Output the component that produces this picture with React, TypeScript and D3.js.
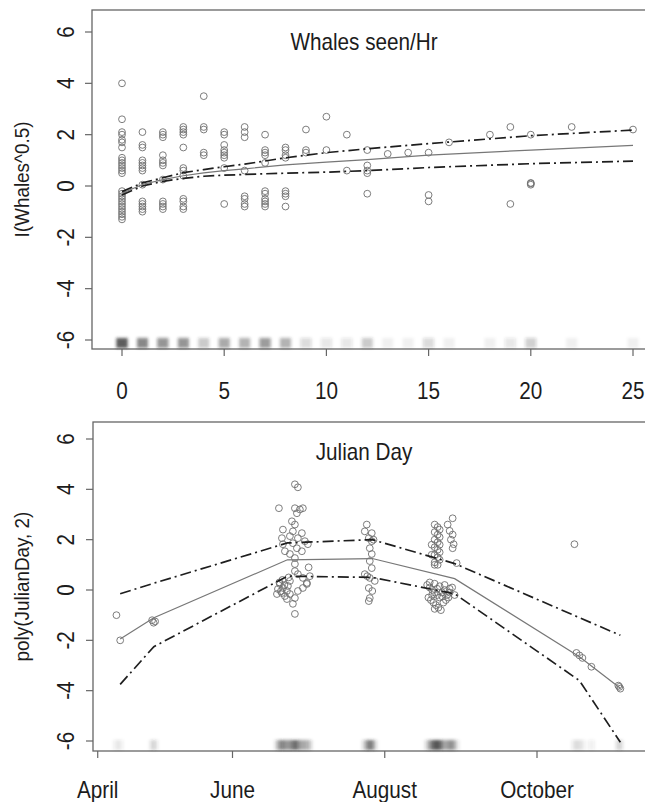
import React from 'react';
import * as d3 from 'd3';

// ---------- Top panel: Whales seen/Hr ----------
const whaleRateLevels = [0, 1, 2, 3, 4, 5, 6, 7, 8, 9, 10, 11, 12, 13, 14, 15, 16, 18, 19, 20, 22, 25];
const whaleResidByLevel = [
  [4.0, 2.6, 2.1, 2.0, 1.8, 1.7, 1.5, 1.1, 1.0, 0.9, 0.8, 0.7, 0.6, 0.5, -0.2, -0.3, -0.4, -0.5, -0.6, -0.7, -0.8, -0.9, -1.0, -1.1, -1.2, -1.3],
  [2.1, 1.6, 1.5, 1.0, 0.9, 0.8, 0.7, 0.6, 0.05, -0.6, -0.7, -0.8, -0.9, -1.0],
  [2.1, 2.0, 1.9, 1.2, 1.0, 0.9, 0.8, 0.25, -0.6, -0.7, -0.8, -0.9],
  [2.3, 2.2, 2.1, 2.0, 1.5, 0.7, 0.6, 0.4, -0.5, -0.6, -0.8, -0.9],
  [3.5, 2.3, 2.2, 1.3, 1.2],
  [2.1, 2.0, 1.6, 1.4, 1.3, 1.2, 1.1, 0.7, -0.7],
  [2.3, 2.1, 1.9, 0.6, -0.4, -0.5, -0.7, -0.8],
  [2.0, 1.4, 1.3, 1.2, 0.9, -0.2, -0.3, -0.5, -0.6, -0.7, -0.8],
  [1.5, 1.4, 1.2, 1.1, -0.2, -0.3, -0.4, -0.8],
  [2.2, 1.4, 1.3],
  [2.7, 1.4],
  [2.0, 0.6],
  [1.4, 0.8, 0.6, 0.5, -0.3],
  [1.25],
  [1.3],
  [1.3, -0.35, -0.6],
  [1.7],
  [2.0],
  [2.3, -0.7],
  [2.0, 0.1, 0.05, 0.12],
  [2.3],
  [2.2],
];
const whaleFitX = [0, 1, 2, 3, 4, 5, 6, 8, 10, 12, 15, 20, 25];
const whaleFit = [-0.28, 0.06, 0.25, 0.4, 0.51, 0.6, 0.67, 0.82, 0.93, 1.03, 1.2, 1.4, 1.58];
const whaleUpper = [-0.22, 0.12, 0.32, 0.52, 0.64, 0.75, 0.85, 1.1, 1.3, 1.45, 1.65, 1.96, 2.18];
const whaleLower = [-0.35, 0.0, 0.18, 0.3, 0.38, 0.42, 0.45, 0.5, 0.54, 0.6, 0.72, 0.87, 0.97];
const whaleXTicks = [0, 5, 10, 15, 20, 25];

// ---------- Bottom panel: Julian Day ----------
const julianDays = [
  105.5, 107, 119.8, 120.4, 121.0,
  177, 178.2, 170.6, 177, 179, 180.2, 177.8, 175.8, 177, 172.2, 176.2, 179.8, 171.8, 175, 178.2, 181, 182.2, 172.2, 176.2, 177.8,
  173, 175, 177, 179.8, 177, 177, 178.2, 180.2, 181.8, 175,
  171, 172.2, 173.8, 170.2, 171.8, 173, 174.2, 175, 169.8, 173.8, 172, 174.5, 170.8, 172.8, 171.4,
  178.2, 177, 176.2, 177, 180.2, 181.8, 183, 182.5,
  205.8, 205, 207.8, 206.6, 207.8, 207, 207.8, 207, 207.8, 205, 207, 209, 206.6, 208, 207, 206.6, 208.5, 206,
  233, 234.2, 235, 233, 234.2, 235, 233, 234.2, 235, 233, 234.2, 235, 233, 234.2, 235, 233, 234.2, 231.8, 231.8, 233,
  240.2, 238.2, 240.2, 240.6, 240.2, 241.8, 239.5, 239,
  230, 231, 232, 233, 234, 235, 236, 237, 238, 239, 240, 241, 230.5, 231.5, 232.5, 233.5, 234.5, 235.5, 236.5, 237.5, 238.5,
  231, 233, 235, 237, 239, 232, 234, 236, 233,
  289, 289.8, 291, 292.2, 295.8, 306.6, 307, 307.4,
];
const julianResid = [
  -1.0, -2.0, -1.2, -1.3, -1.25,
  4.2, 4.08, 3.25, 3.25, 3.2, 3.25, 3.05, 2.73, 2.6, 2.4, 2.33, 2.26, 2.06, 2.14, 2.06, 1.94, 1.82, 1.82, 1.86, 1.66,
  1.54, 1.43, 1.27, 1.54, 1.03, 0.75, 0.63, 0.48, 0.24, 0.36,
  0.24, 0.08, -0.04, 0.04, -0.12, -0.24, 0.16, -0.16, -0.16, -0.36, 0.4, 0.5, 0.3, 0.2, -0.05,
  -0.04, -0.32, -0.55, -0.95, 0.08, 0.28, 0.55, 0.9,
  2.6, 2.33, 2.26, 2.06, 1.94, 1.66, 1.43, 1.15, 0.87, 0.63, 0.48, 0.36, 0.08, -0.04, -0.32, -0.44, 2.0, 0.55,
  2.6, 2.5, 2.4, 2.3, 2.2, 2.1, 2.0, 1.9, 1.8, 1.7, 1.6, 1.5, 1.4, 1.3, 1.2, 1.1, 1.0, 1.8, 1.4, 1.0,
  2.85, 2.6, 2.2, 1.82, 1.66, 1.07, 2.0, 2.35,
  0.2, 0.1, 0.0, -0.1, -0.2, -0.3, -0.1, 0.0, -0.2, -0.1, 0.1, -0.2, -0.3, -0.4, -0.5, -0.6, -0.7, -0.8, -0.5, -0.4, -0.3,
  0.3, 0.25, 0.15, 0.2, 0.05, -0.2, 0.05, -0.25, -0.75,
  1.82, -2.5, -2.6, -2.7, -3.05, -3.8, -3.85, -3.92,
];
const julianFitDays = [107, 120.5, 174, 208, 241, 291, 307.4];
const julianFit = [-1.95, -1.1, 1.2, 1.25, 0.45, -2.65, -3.9];
const julianUpper = [-0.15, 0.27, 1.87, 2.0, 1.05, -1.1, -1.8];
const julianLower = [-3.75, -2.25, 0.55, 0.5, -0.15, -3.6, -6.05];
const julianTickDays = [98, 152, 213, 274];
const julianTickLabels = ['April', 'June', 'August', 'October'];

const yTicks = [-6, -4, -2, 0, 2, 4, 6];

const FONT = '"Liberation Sans", Arial, Helvetica, sans-serif';
const TEXT = '#1c1c1c';
const SX = 0.9;

type Pt = { x: number; y: number };

function Panel(props: {
  id: string;
  xs: d3.ScaleLinear<number, number>;
  ys: d3.ScaleLinear<number, number>;
  box: { left: number; top: number; bottom: number };
  points: Pt[];
  fit: Pt[];
  upper: Pt[];
  lower: Pt[];
  xTicks: number[];
  xTickLabels: string[];
  xLabelY: number;
  title: string;
  titleY: number;
  ylab: string;
  rugOpacity: number;
  rugWidth: number;
}) {
  const { id, xs, ys, box, points, fit, upper, lower, xTicks, xTickLabels, xLabelY, title, titleY, ylab, rugOpacity, rugWidth } = props;
  const line = d3.line<Pt>().x((d) => xs(d.x)).y((d) => ys(d.y));
  const midY = (box.top + box.bottom) / 2;
  const titleX = 364;
  return (
    <g>
      <defs>
        <filter id={'blur' + id} x="-50%" y="-50%" width="200%" height="200%">
          <feGaussianBlur stdDeviation="1.6" />
        </filter>
      </defs>
      {/* box */}
      <rect x={box.left} y={box.top} width={700} height={box.bottom - box.top} fill="none" stroke="#666" strokeWidth={1.3} />
      {/* y ticks */}
      {yTicks.map((t) => (
        <g key={'yt' + t}>
          <line x1={box.left - 7} x2={box.left} y1={ys(t)} y2={ys(t)} stroke="#666" strokeWidth={1.2} />
          <text
            transform={`translate(74,${ys(t)}) rotate(-90) scale(${SX},1)`}
            textAnchor="middle"
            fontFamily={FONT}
            fontSize={23}
            fill={TEXT}
          >
            {t}
          </text>
        </g>
      ))}
      {/* x ticks */}
      {xTicks.map((t, i) => (
        <g key={'xt' + i}>
          <line x1={xs(t)} x2={xs(t)} y1={box.bottom} y2={box.bottom + 7} stroke="#666" strokeWidth={1.2} />
          <text
            transform={`translate(${xs(t)},${xLabelY}) scale(${SX},1)`}
            textAnchor="middle"
            fontFamily={FONT}
            fontSize={23}
            fill={TEXT}
          >
            {xTickLabels[i]}
          </text>
        </g>
      ))}
      {/* y label */}
      <text
        transform={`translate(29,${midY}) rotate(-90) scale(${SX},1)`}
        textAnchor="middle"
        fontFamily={FONT}
        fontSize={21}
        fill={TEXT}
      >
        {ylab}
      </text>
      {/* title */}
      <text
        transform={`translate(${titleX},${titleY}) scale(${SX},1)`}
        textAnchor="middle"
        fontFamily={FONT}
        fontSize={23}
        fill={TEXT}
      >
        {title}
      </text>
      {/* rug */}
      <g filter={`url(#blur${id})`}>
        {points.map((p, i) => (
          <line
            key={'r' + i}
            x1={xs(p.x)}
            x2={xs(p.x)}
            y1={box.bottom - 11}
            y2={box.bottom - 1}
            stroke="#333"
            strokeWidth={rugWidth}
            strokeOpacity={rugOpacity}
          />
        ))}
      </g>
      {/* points */}
      {points.map((p, i) => (
        <circle key={'p' + i} cx={xs(p.x)} cy={ys(p.y)} r={3.4} fill="none" stroke="#6e6e6e" strokeWidth={0.9} />
      ))}
      {/* lines */}
      <path d={line(fit) || ''} fill="none" stroke="#777" strokeWidth={1.2} />
      <path d={line(upper) || ''} fill="none" stroke="#1e1e1e" strokeWidth={1.7} strokeDasharray="11,4,2,4" />
      <path d={line(lower) || ''} fill="none" stroke="#1e1e1e" strokeWidth={1.7} strokeDasharray="11,4,2,4" />
    </g>
  );
}

export default function App() {
  // top scales
  const xTop = d3.scaleLinear().domain([0, 25]).range([122, 633]);
  const yTop = d3.scaleLinear().domain([-6, 6]).range([340, 32]);
  const topPoints: Pt[] = [];
  whaleRateLevels.forEach((lv, i) => whaleResidByLevel[i].forEach((v) => topPoints.push({ x: lv, y: v })));
  const zipTop = (arr: number[]) => whaleFitX.map((x, i) => ({ x, y: arr[i] }));

  // bottom scales
  const xBot = d3.scaleLinear().domain([152, 274]).range([232.5, 537]);
  const yBot = d3.scaleLinear().domain([-6, 6]).range([741, 439]);
  const botPoints: Pt[] = julianDays.map((d, i) => ({ x: d, y: julianResid[i] }));
  const zipBot = (arr: number[]) => julianFitDays.map((x, i) => ({ x, y: arr[i] }));

  return (
    <svg width={645} height={802} style={{ position: 'absolute', left: 0, top: 0, background: '#fff' }}>
      <rect x={0} y={0} width={645} height={802} fill="#fff" />
      <Panel
        id="top"
        xs={xTop}
        ys={yTop}
        box={{ left: 92, top: 10, bottom: 349 }}
        points={topPoints}
        fit={zipTop(whaleFit)}
        upper={zipTop(whaleUpper)}
        lower={zipTop(whaleLower)}
        xTicks={whaleXTicks}
        xTickLabels={whaleXTicks.map(String)}
        xLabelY={399}
        title="Whales seen/Hr"
        titleY={50}
        ylab="I(Whales^0.5)"
        rugOpacity={0.06}
        rugWidth={11}
      />
      <Panel
        id="bot"
        xs={xBot}
        ys={yBot}
        box={{ left: 93, top: 422, bottom: 751 }}
        points={botPoints}
        fit={zipBot(julianFit)}
        upper={zipBot(julianUpper)}
        lower={zipBot(julianLower)}
        xTicks={julianTickDays}
        xTickLabels={julianTickLabels}
        xLabelY={798}
        title="Julian Day"
        titleY={460}
        ylab="poly(JulianDay, 2)"
        rugOpacity={0.08}
        rugWidth={6}
      />
    </svg>
  );
}
